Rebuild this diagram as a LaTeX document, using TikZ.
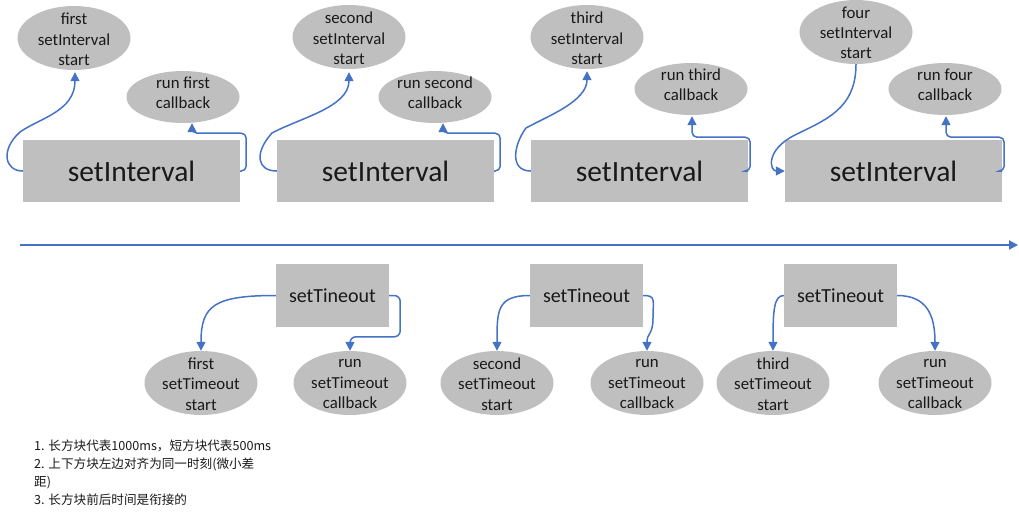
\documentclass[tikz,border=0pt]{standalone}
\usepackage{fontspec}
\setmainfont{Carlito}
\newfontfamily\cjk{Noto Sans CJK SC}
\usetikzlibrary{arrows.meta,shapes.geometric,calc}
\definecolor{boxgray}{RGB}{191,191,191}
\definecolor{linkblue}{RGB}{68,114,196}
\definecolor{txt}{RGB}{25,25,25}
\begin{document}
\begin{tikzpicture}[x=1pt,y=-1pt,
  bigbox/.style={fill=boxgray, minimum width=217pt, minimum height=62pt, inner sep=0pt,
    font=\fontsize{29.5}{32}\selectfont, text=txt},
  smallbox/.style={fill=boxgray, minimum width=113pt, minimum height=63pt, inner sep=0pt,
    font=\fontsize{20}{24}\selectfont, text=txt},
  oval/.style={ellipse, fill=boxgray, inner sep=0pt, minimum width=113pt, minimum height=64pt},
  cboval/.style={ellipse, fill=boxgray, inner sep=0pt, minimum width=113pt, minimum height=52pt},
  ovaltext/.style={align=center, font=\fontsize{16.8}{20.3}\selectfont, text=txt, inner sep=0pt},
  conn/.style={draw=linkblue, line width=1.5pt, -{Triangle[length=9pt,width=9pt]}},
  note/.style={align=left, font=\cjk\fontsize{12.6}{18}\selectfont, text=txt, inner sep=0pt, anchor=north west},
]
\useasboundingbox (0,0) rectangle (1019,514);

% ---- setInterval blocks ----
\node[bigbox] (r1) at (131.5,171) {setInterval};
\node[bigbox] (r2) at (385.5,171) {setInterval};
\node[bigbox] (r3) at (639.5,171) {setInterval};
\node[bigbox] (r4) at (893.5,171) {setInterval};

% ---- start ellipses ----
\node[oval, label={[ovaltext,yshift=-1.5pt]center:first\\setInterval\\start}] (e1) at (74,38) {};
\node[oval, label={[ovaltext,yshift=-1.5pt]center:second\\setInterval\\start}] (e2) at (349,37) {};
\node[oval, label={[ovaltext,yshift=-1.5pt]center:third\\setInterval\\start}] (e3) at (587,37) {};
\node[oval, label={[ovaltext,yshift=-1pt]center:four\\setInterval\\start}] (e4) at (856,32) {};

% ---- callback ellipses ----
\node[cboval, label={[ovaltext,yshift=4pt]center:run first\\callback}] (c1) at (183,97) {};
\node[cboval, label={[ovaltext,yshift=4pt]center:run second\\callback}] (c2) at (435,97) {};
\node[cboval, label={[ovaltext,yshift=4pt]center:run third\\callback}] (c3) at (691,89) {};
\node[cboval, label={[ovaltext,yshift=4pt]center:run four\\callback}] (c4) at (945,89) {};

% ---- start connectors ----
\coordinate (m1) at (20,132);
\coordinate (m2) at (272,133);
\coordinate (m3) at (526,128);
\coordinate (m4) at (795,135);
\draw[conn] (r1.west) .. controls +(-18,0) and +(-20,18) .. (m1)
  .. controls +(20,-14) and +(0,39) .. ($(e1.south)+(1,2)$);
\draw[conn] (r2.west) .. controls +(-20,0) and +(-18,20) .. (m2)
  .. controls +(28,-15) and +(0,35) .. ($(e2.south)+(0,3)$);
\draw[conn] (r3.west) .. controls +(-22,0) and +(-12,16) .. (m3)
  .. controls +(22,-12) and +(0,30) .. ($(e3.south)+(0,2)$);
\draw[conn] (e4.south) .. controls +(0,45) and +(30,-15) .. (m4)
  .. controls +(-30,15) and +(-15,0) .. (r4.west);

% ---- callback connectors ----
\draw[conn, rounded corners=5] (r1.east) -- ++(6,0) |- ($(c1.south)+(9,10)$) -- ($(c1.south)+(9,0)$);
\draw[conn, rounded corners=5] (r2.east) -- ++(6,0) |- ($(c2.south)+(8,10)$) -- ($(c2.south)+(8,0)$);
\draw[conn, rounded corners=5] (r3.east) -- ++(2,0) |- ($(c3.south)+(1,22)$) -- ($(c3.south)+(1,1)$);
\draw[conn, rounded corners=5] (r4.east) -- ++(2,0) |- ($(c4.south)+(1,22)$) -- ($(c4.south)+(1,1)$);

% ---- time axis ----
\coordinate (t0) at (20,245);
\coordinate (t1) at (1018,245);
\draw[conn, line width=1.8pt] (t0) -- (t1);

% ---- setTimeout blocks ----
\node[smallbox] (r5) at (332.5,295.5) {setTineout};
\node[smallbox] (r6) at (586.5,295.5) {setTineout};
\node[smallbox] (r7) at (840.5,295.5) {setTineout};

\node[oval, label={[ovaltext,yshift=-1pt]center:first\\setTimeout\\start}] (s5) at (201,383) {};
\node[oval, label={[ovaltext,yshift=-1pt]center:run\\setTimeout\\callback}] (k5) at (350,383) {};
\node[oval, label={[ovaltext,yshift=-1pt]center:second\\setTimeout\\start}] (s6) at (497,383) {};
\node[oval, label={[ovaltext,yshift=-1pt]center:run\\setTimeout\\callback}] (k6) at (647,383) {};
\node[oval, label={[ovaltext,yshift=-1pt]center:third\\setTimeout\\start}] (s7) at (773,383) {};
\node[oval, label={[ovaltext,yshift=-1pt]center:run\\setTimeout\\callback}] (k7) at (935,383) {};

\draw[conn] (r5.west) .. controls +(-62,0) and +(0,-45) .. (s5.north);
\draw[conn, rounded corners=6] (r5.east) -- ++(11,0) |- ($(k5.north)+(0,-14)$) -- (k5.north);
\draw[conn] (r6.west) .. controls +(-33,0) and +(0,-40) .. (s6.north);
\coordinate (m6) at (653,318);
\draw[conn] (r6.east) .. controls +(13,0) and +(0,-18) .. (m6)
  .. controls +(0,17) and +(0,-18) .. (k6.north);
\draw[conn] (r7.west) .. controls +(-10,0) and +(0,-40) .. (s7.north);
\draw[conn] (r7.east) .. controls +(30,0) and +(0,-35) .. (k7.north);

% ---- notes ----
\node[note] (notes) at (34,439.5) {1. 长方块代表1000ms，短方块代表500ms\\2. 上下方块左边对齐为同一时刻(微小差\\距)\\3. 长方块前后时间是衔接的};
\end{tikzpicture}
\end{document}
